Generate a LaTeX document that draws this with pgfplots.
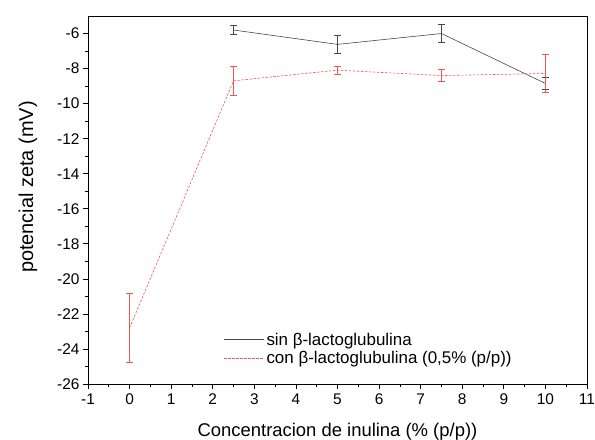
\documentclass[border=0pt]{standalone}
\usepackage{fontspec}
\setmainfont{Liberation Sans}
\usepackage{pgfplots}
\pgfplotsset{compat=1.18}

\definecolor{redline}{RGB}{240,85,85}
\definecolor{darkline}{RGB}{70,70,70}

\begin{document}
\begin{tikzpicture}
\useasboundingbox (-88bp,-56bp) rectangle (507bp,384bp);
\begin{axis}[
    at={(0,0)}, anchor=south west,
    scale only axis,
    width=499bp, height=368bp,
    xmin=-1, xmax=11,
    ymin=-26, ymax=-5,
    xtick={-1,0,...,11},
    ytick={-26,-24,...,-6},
    minor x tick num=1,
    minor y tick num=1,
    tick align=outside,
    xtick pos=bottom, ytick pos=left,
    major tick length=5bp,
    minor tick length=3bp,
    tick style={black, line width=0.7pt},
    axis line style={line width=0.9pt},
    /pgf/number format/assume math mode=true,
    ticklabel style={font=\fontsize{15.5}{17}\selectfont},
    xticklabel style={yshift=-1bp},
    xlabel={Concentracion de inulina (\% (p/p))},
    ylabel={potencial zeta (mV)},
    every axis x label/.style={at={(axis description cs:0.5,0)}, yshift=-48bp,
        anchor=center, font=\fontsize{18.5}{20}\selectfont},
    every axis y label/.style={at={(axis description cs:0,0.535)}, xshift=-60bp,
        anchor=center, rotate=90, font=\fontsize{20}{22}\selectfont},
    legend style={draw=none, fill=none, at={(0.272,0.145)}, anchor=north west,
        font=\fontsize{17}{19}\selectfont, row sep=0.5bp, inner sep=0pt},
    legend cell align=left,
    legend image code/.code={\draw[#1] (0bp,0bp) -- (40bp,0bp);},
]
\addplot[darkline, line width=0.6pt,
    error bars/.cd, y dir=both, y explicit,
    error bar style={darkline, line width=0.6pt},
    error mark options={rotate=90, mark size=3.5bp, darkline, line width=0.6pt}]
    coordinates {
    (2.5,-5.80) +- (0,0.25)
    (5,-6.62) +- (0,0.50)
    (7.5,-6.00) +- (0,0.50)
    (10,-8.85) +- (0,0.36)
};
\addlegendentry{sin β-lactoglubulina}

\addplot[redline, line width=0.6pt, dash pattern=on 2.5bp off 1.5bp,
    error bars/.cd, y dir=both, y explicit,
    error bar style={redline, line width=0.6pt, solid},
    error mark options={rotate=90, mark size=3.5bp, redline, line width=0.6pt, solid}]
    coordinates {
    (0,-22.80) +- (0,1.99)
    (2.5,-8.70) +- (0,0.85)
    (5,-8.09) +- (0,0.21)
    (7.5,-8.40) +- (0,0.34)
    (10,-8.28) +- (0,1.08)
};
\addlegendentry{con β-lactoglubulina (0,5\% (p/p))}
\end{axis}
\end{tikzpicture}
\end{document}
